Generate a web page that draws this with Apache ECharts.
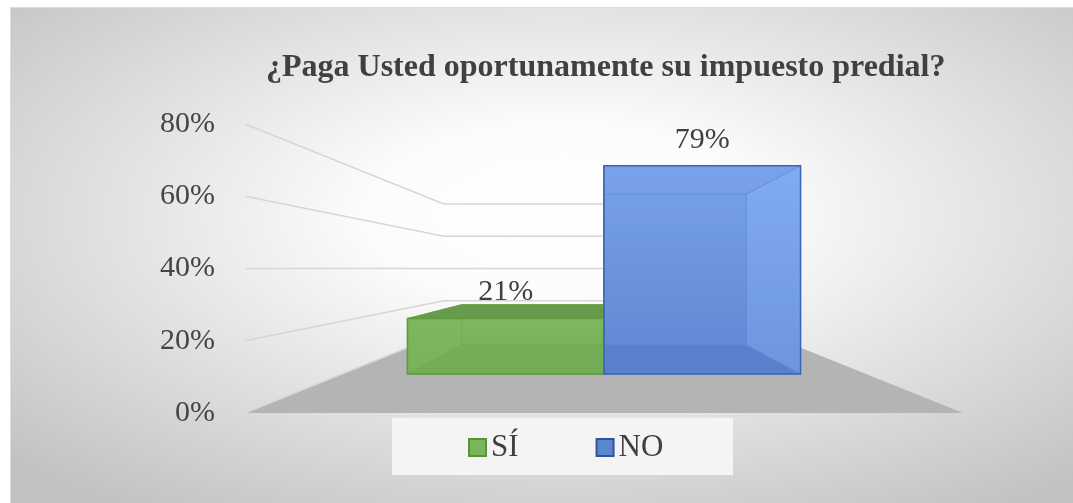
<!DOCTYPE html>
<html><head><meta charset="utf-8">
<script src="https://cdn.jsdelivr.net/npm/echarts@6/dist/echarts.min.js"></script>
<style>html,body{margin:0;padding:0;background:#fff}#c{width:1073px;height:503px}</style>
</head><body><div id="c"></div>
<script>
// ---- data ----
const categories = [''];
const seriesNames = ['SÍ', 'NO'];
const siValues = [0.21];
const noValues = [0.79];
const yTicks = [0, 0.2, 0.4, 0.6, 0.8];
const titleText = '¿Paga Usted oportunamente su impuesto predial?';

// ---- style / projection settings ----
const SERIF = '"Liberation Serif", "Times New Roman", serif';
const BACK_SCALE = 0.446, BAR_FRONT = 0.73, BAR_BACK = 0.529, CLUSTER = 0.75;

function grad(a, b) {
  return { type: 'linear', x: 0, y: 0, x2: 0, y2: 1, colorStops: [{ offset: 0, color: a }, { offset: 1, color: b }] };
}
const barStyles = [
  { legend: '#7ab55c', legendBorder: '#5a9236', front: grad('#7fb961', '#76b058'), back: grad('#7fb961', '#76b058'),
    left: '#7ab55c', right: '#7ab55c', top: '#679a4c', bottom: '#70a853', edge: '#5f9a3d', inner: '#6aa34b' },
  { legend: '#5b86d2', legendBorder: '#2f5597', front: grad('#76a0e8', '#6189d3'), back: grad('#76a0e8', '#6189d3'),
    left: '#6d97df', right: grad('#8cb6fb', '#78a2ea'), top: '#7aa3ea', bottom: '#4f77c2', edge: '#3a64b4', inner: '#5a85d0' }
];

function projector(params) {
  const cs = params.coordSys;
  const cx = cs.x + cs.width / 2, cy = cs.y + cs.height / 2;
  return (x, y, s) => [cx + (x - cx) * s, cy + (y - cy) * s];
}

function renderFloor(params, api) {
  const cs = params.coordSys;
  const P = projector(params);
  const y0 = api.coord([api.value(0), api.value(1)])[1];
  const l = cs.x, r = cs.x + cs.width;
  return { type: 'polygon', shape: { points: [P(l, y0, 1), P(r, y0, 1), P(r, y0, BACK_SCALE), P(l, y0, BACK_SCALE)] },
    style: { fill: '#b4b4b4' } };
}

function renderGrid(params, api) {
  const cs = params.coordSys;
  const P = projector(params);
  const y = api.coord([0, api.value(1)])[1];
  const l = cs.x, r = cs.x + cs.width;
  return { type: 'polyline', shape: { points: [P(l, y, 1), P(l, y, BACK_SCALE), P(r, y, BACK_SCALE)] },
    style: { stroke: '#d6d6d6', lineWidth: 1.5, fill: null } };
}

function renderBar(params, api) {
  const slot = seriesNames.indexOf(params.seriesName);
  const st = barStyles[slot];
  const P = projector(params);
  const cat = api.value(0), v = api.value(1);
  const base = api.coord([cat, 0]);
  const topP = api.coord([cat, v]);
  const band = api.size([1, 0])[0];
  const cw = band * CLUSTER, bw = cw / seriesNames.length;
  const xl = base[0] - cw / 2 + slot * bw, xr = xl + bw;
  const yb = base[1], yt = topP[1];
  const FBL = P(xl, yb, BAR_FRONT), FBR = P(xr, yb, BAR_FRONT), FTL = P(xl, yt, BAR_FRONT), FTR = P(xr, yt, BAR_FRONT);
  const BBL = P(xl, yb, BAR_BACK), BBR = P(xr, yb, BAR_BACK), BTL = P(xl, yt, BAR_BACK), BTR = P(xr, yt, BAR_BACK);
  const face = (pts, fill, op) => ({ type: 'polygon', shape: { points: pts },
    style: { fill: fill, opacity: op, stroke: st.inner, lineWidth: 1 } });
  return {
    type: 'group',
    children: [
      face([BBL, BBR, BTR, BTL], st.back, 1),
      face([FBL, FBR, BBR, BBL], st.bottom, 1),
      face([FBL, FTL, BTL, BBL], st.left, 1),
      face([FBR, FTR, BTR, BBR], st.right, 1),
      face([FTL, FTR, BTR, BTL], st.top, 1),
      { type: 'polygon', shape: { points: [FBL, FBR, FTR, FTL] }, style: { fill: st.front, opacity: 0.5 } },
      { type: 'polygon', shape: { points: [FBL, FBR, FTR, FTL] }, style: { fill: null, stroke: st.edge, lineWidth: 1.5 } },
      { type: 'text', x: (FTL[0] + FTR[0]) / 2, y: FTL[1] - 26,
        style: { text: Math.round(v * 100) + '%', font: '30px ' + SERIF, fill: '#404040', align: 'center', verticalAlign: 'middle' } }
    ]
  };
}

const chart = echarts.init(document.getElementById('c'), null, { renderer: 'canvas' });
const W = 1073, H = 503;
const SX = 2.14;
chart.setOption({
  animation: false,
  backgroundColor: '#ffffff',
  graphic: [
    { type: 'rect', z: -10, silent: true, x: 10, y: 7, scaleX: SX,
      shape: { x: 0, y: 0, width: (W - 10) / SX, height: H - 7 },
      style: { fill: { type: 'radial', x: 0.52, y: 0.42, r: 0.72,
        colorStops: [{ offset: 0, color: '#ffffff' }, { offset: 0.25, color: '#fcfcfc' }, { offset: 1, color: '#c2c2c2' }] } } },
    { type: 'rect', z: -9, silent: true, shape: { x: 10.5, y: 7.5, width: W - 10, height: H - 7 },
      style: { fill: null, stroke: '#dcdcdc', lineWidth: 1 } },
    { type: 'rect', z: -8, silent: true, shape: { x: 392, y: 418, width: 341, height: 57 },
      style: { fill: '#f4f4f4' } }
  ],
  title: {
    text: titleText, left: 266, top: 52, padding: 0,
    textStyle: { fontFamily: SERIF, fontWeight: 'bold', fontSize: 32, color: '#404040' }
  },
  legend: {
    data: seriesNames, left: 468, top: 432, padding: 0, itemGap: 77,
    icon: 'rect', itemWidth: 17, itemHeight: 17,
    textStyle: { fontFamily: SERIF, fontSize: 31, color: '#404040' }
  },
  grid: { left: 245, right: 110, top: 124, bottom: 90 },
  xAxis: { type: 'category', data: categories, show: false },
  yAxis: {
    type: 'value', min: 0, max: 0.8, interval: 0.2,
    axisLine: { show: false }, axisTick: { show: false }, splitLine: { show: false },
    axisLabel: { margin: 30, fontFamily: SERIF, fontSize: 30, color: '#454545',
      formatter: v => Math.round(v * 100) + '%' }
  },
  series: [
    { type: 'custom', name: 'floor', renderItem: renderFloor, data: [[0, yTicks[0]]], silent: true, z: 1 },
    { type: 'custom', name: 'grid', renderItem: renderGrid, data: yTicks.map(t => [0, t]), silent: true, z: 1 },
    { type: 'custom', name: seriesNames[0], renderItem: renderBar, data: siValues.map((v, i) => [i, v]), z: 3,
      itemStyle: { color: barStyles[0].legend, borderColor: barStyles[0].legendBorder, borderWidth: 1 } },
    { type: 'custom', name: seriesNames[1], renderItem: renderBar, data: noValues.map((v, i) => [i, v]), z: 3,
      itemStyle: { color: barStyles[1].legend, borderColor: barStyles[1].legendBorder, borderWidth: 1 } }
  ]
});
</script>
</body></html>
